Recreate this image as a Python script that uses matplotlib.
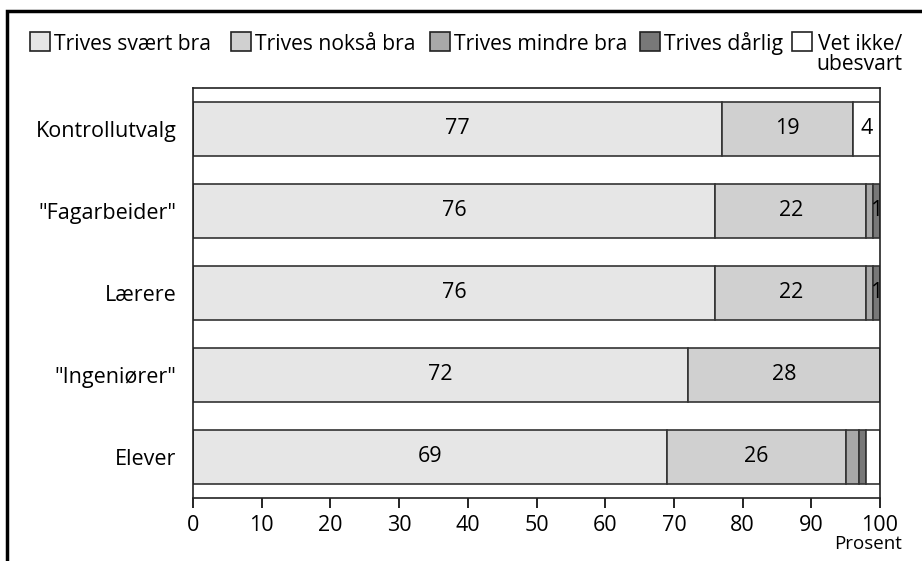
import numpy as np
import matplotlib
matplotlib.use('Agg')
import matplotlib.pyplot as plt
from matplotlib.patches import Rectangle

plt.rcParams['font.family'] = ['Open Sans', 'DejaVu Sans']

# Data (percent), top to bottom
groups = ['Kontrollutvalg', '"Fagarbeider"', 'Lærere', '"Ingeniører"', 'Elever']
svaert_bra = [77, 76, 76, 72, 69]
noksa_bra = [19, 22, 22, 28, 26]
mindre_bra = [0, 1, 1, 0, 2]
darlig = [0, 1, 1, 0, 1]
vet_ikke = [4, 0, 0, 0, 2]

series = [svaert_bra, noksa_bra, mindre_bra, darlig, vet_ikke]
series_names = ['Trives svært bra', 'Trives nokså bra', 'Trives mindre bra',
                'Trives dårlig', 'Vet ikke/\nubesvart']
colors = ['#e6e6e6', '#d0d0d0', '#a8a8a8', '#787878', '#ffffff']
# which segment values get a printed label
show_label = [
    [True, True, True, True, True],
    [True, True, True, True, True],
    [False, False, False, False, False],
    [False, True, True, False, False],
    [True, False, False, False, False],
]

FS = 15.5
W, H = 922, 561
fig = plt.figure(figsize=(W / 100, H / 100), dpi=100)
ax = fig.add_axes([193 / W, 1 - 498 / H, (880 - 193) / W, (498 - 88) / H])

y = np.arange(len(groups))
left = np.zeros(len(groups))
for vals, col, show in zip(series, colors, show_label):
    vals = np.array(vals, dtype=float)
    ax.barh(y, vals, left=left, height=0.67, color=col,
            edgecolor='#333333', linewidth=1.2)
    for i, v in enumerate(vals):
        if show[i] and v > 0:
            ax.text(left[i] + v / 2, y[i], f'{int(v)}', ha='center',
                    va='center', fontsize=FS)
    left += vals

ax.set_xlim(0, 100)
ax.set_ylim(len(groups) - 0.5, -0.5)
ax.set_yticks(y)
ax.set_yticklabels(groups, fontsize=FS)
ax.tick_params(axis='y', length=0, pad=12)
ax.set_xticks(np.arange(0, 101, 10))
ax.tick_params(axis='x', direction='out', length=7, width=1.2,
               labelsize=FS, pad=5)
for sp in ax.spines.values():
    sp.set_linewidth(1.2)
    sp.set_color('#222222')

fig.text(902 / W, 1 - 544 / H, 'Prosent', ha='right', va='center',
         fontsize=13.5)

# legend drawn by hand along the top
sq_x = [30, 231, 430, 640, 792]
for x0, col, name in zip(sq_x, colors, series_names):
    fig.patches.append(Rectangle((x0 / W, 1 - 51 / H), 20 / W, 19 / H,
                                 transform=fig.transFigure, facecolor=col,
                                 edgecolor='#222222', linewidth=1.2))
    # baseline of the last line; extra lines hang below the first
    base = 50 + 20 * name.count('\n')
    fig.text((x0 + 24) / W, 1 - base / H, name, ha='left', va='baseline',
             fontsize=15.2, multialignment='right', linespacing=0.95)

# outer frame (only top and left edges visible)
fig.patches.append(Rectangle((7 / W, -0.5), 2.0, 0.5 + 1 - 11 / H,
                             transform=fig.transFigure, fill=False,
                             edgecolor='black', linewidth=2.5))

fig.savefig('out.png', dpi=100)
